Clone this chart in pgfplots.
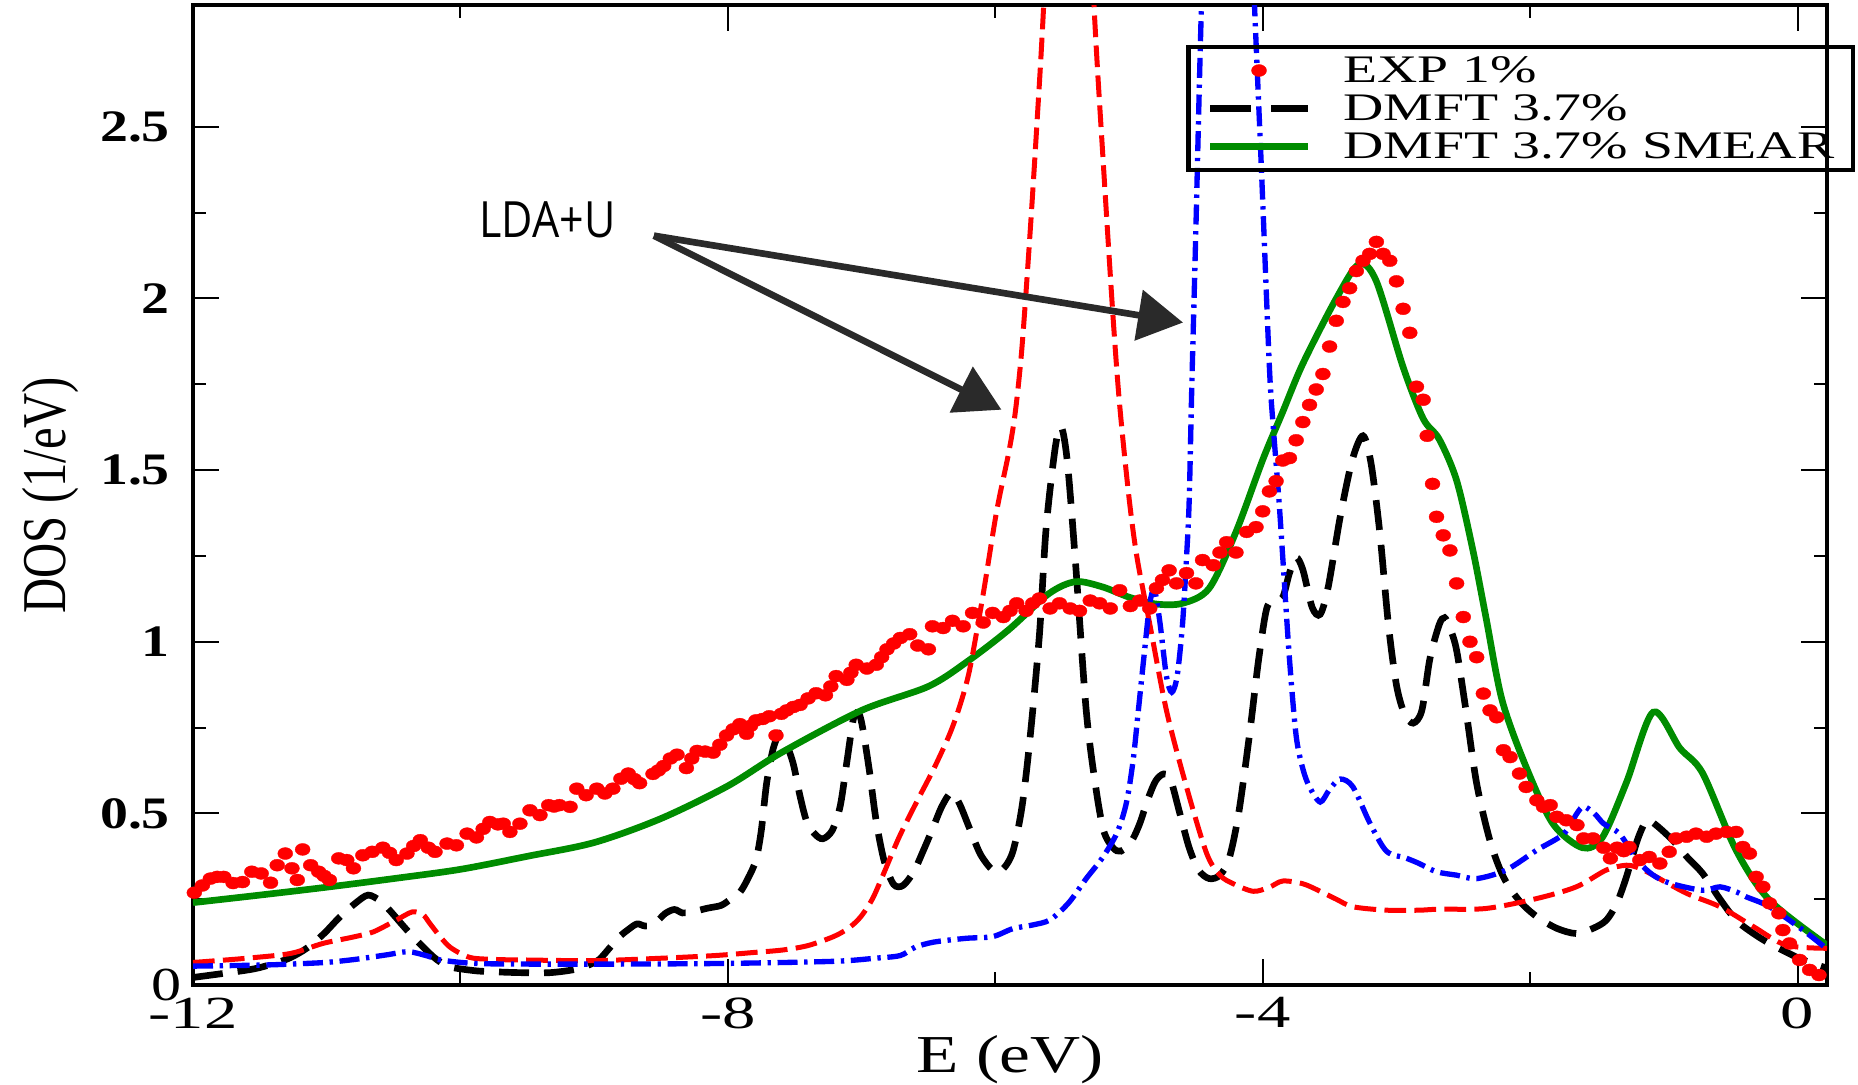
\documentclass[border=0pt]{standalone}
\usepackage{graphicx}
\usepackage{pgfplots}
\pgfplotsset{compat=1.18}
\usepackage{fontspec}
\setmainfont{Liberation Serif}
\newfontfamily\annfont{Open Sans}
\usetikzlibrary{arrows.meta}

\definecolor{smeargreen}{rgb}{0,0.55,0}
\definecolor{arrowgray}{RGB}{42,42,42}

% horizontally widened labels
\newcommand{\xtl}[1]{\scalebox{1.45}[1]{\fontsize{13.8}{13.8}\selectfont #1}}
\newcommand{\ytl}[1]{\scalebox{1.24}[1]{\fontsize{13.5}{13.5}\selectfont\bfseries #1}}
\newcommand{\lgt}[1]{\scalebox{1.43}[1]{#1}}

% legend sample for the dashed DMFT curve
\pgfplotsset{dmft legend/.style={legend image code/.code={\draw[##1, dash pattern=on 12.3pt off 6pt] (0pt,0pt) -- (29.4pt,0pt);}}}

\begin{document}
\begin{tikzpicture}
\begin{axis}[
  scale only axis,
  width=490.2pt, height=294pt,
  xmin=-12, xmax=0.22,
  ymin=0, ymax=2.855,
  axis line style={line width=1.2pt},
  every tick/.style={black, line width=0.6pt},
  major tick length=7.8pt, minor tick length=4pt,
  xtick={-12,-8,-4,0},
  xticklabels={\xtl{-12},\xtl{-8},\xtl{-4},\xtl{0}},
  xticklabel style={inner ysep=0pt, yshift=-3.6pt},
  minor x tick num=1,
  ytick={0,0.5,1,1.5,2,2.5},
  yticklabels={{\raisebox{0.3pt}{\scalebox{1.27}[1]{\fontsize{14.2}{14.2}\selectfont 0}}\hspace*{-3.4pt}},\ytl{0.5},\ytl{1},\ytl{1.5},\ytl{2},\ytl{2.5}},
  minor y tick num=1,
  yticklabel style={inner ysep=0pt, xshift=-3.4pt},
  xlabel={\scalebox{1.3}[1]{E (eV)}},
  xlabel style={font=\fontsize{16}{16}\selectfont, at={(axis description cs:0.5,-0.0888)}, anchor=base},
  ylabel={\scalebox{1}[1.28]{DOS (1/eV)}},
  ylabel style={font=\fontsize{14.6}{14.6}\selectfont, at={(axis description cs:-0.0869,0.5)}, anchor=center},
  legend image code/.code={\draw[mark repeat=2,mark phase=2,#1] plot coordinates {(0pt,0pt) (14.7pt,0pt) (29.4pt,0pt)};},
  legend style={
    at={(rel axis cs:1,1)}, anchor=north east, xshift=8.4pt, yshift=-12pt,
    draw=black, line width=1.3pt, fill=none,
    inner xsep=5.5pt, inner ysep=1.3pt,
    column sep=9.6pt,
    font=\fontsize{11.7}{11.7}\selectfont,
    nodes={inner sep=0pt, text height=9.2pt, text depth=2.2pt},
    cells={anchor=west},
  },
]

% experiment
\addplot[only marks, mark=*, color=red, mark size=1.8pt,
  mark options={fill=red, draw=red, line width=0.1pt, xscale=1.25}] table {
x y
-11.99 0.269
-11.93 0.29
-11.87 0.31
-11.82 0.315
-11.77 0.315
-11.70 0.297
-11.63 0.30
-11.56 0.33
-11.49 0.325
-11.42 0.298
-11.37 0.349
-11.31 0.383
-11.26 0.34
-11.22 0.306
-11.18 0.395
-11.12 0.349
-11.06 0.33
-11.02 0.318
-10.98 0.306
-10.91 0.369
-10.85 0.364
-10.80 0.34
-10.73 0.378
-10.66 0.388
-10.58 0.40
-10.53 0.385
-10.48 0.364
-10.40 0.383
-10.35 0.405
-10.30 0.422
-10.24 0.40
-10.19 0.388
-10.10 0.412
-10.03 0.407
-9.95 0.441
-9.88 0.43
-9.83 0.455
-9.78 0.475
-9.72 0.468
-9.68 0.47
-9.63 0.446
-9.555 0.47
-9.48 0.509
-9.405 0.495
-9.34 0.524
-9.30 0.52
-9.26 0.524
-9.18 0.519
-9.13 0.572
-9.06 0.553
-8.98 0.572
-8.92 0.558
-8.86 0.572
-8.80 0.601
-8.745 0.616
-8.70 0.60
-8.66 0.588
-8.56 0.615
-8.52 0.625
-8.48 0.638
-8.43 0.66
-8.38 0.671
-8.31 0.632
-8.27 0.66
-8.23 0.682
-8.17 0.68
-8.11 0.677
-8.06 0.70
-8.01 0.727
-7.96 0.745
-7.91 0.76
-7.86 0.732
-7.83 0.755
-7.79 0.771
-7.74 0.775
-7.69 0.783
-7.64 0.727
-7.60 0.79
-7.56 0.80
-7.51 0.81
-7.46 0.816
-7.40 0.835
-7.34 0.85
-7.27 0.844
-7.23 0.87
-7.19 0.90
-7.11 0.889
-7.08 0.91
-7.04 0.933
-6.96 0.922
-6.89 0.933
-6.85 0.955
-6.81 0.978
-6.76 0.995
-6.71 1.011
-6.64 1.022
-6.58 0.989
-6.50 0.978
-6.47 1.045
-6.39 1.04
-6.32 1.061
-6.24 1.045
-6.17 1.084
-6.09 1.056
-6.02 1.084
-5.94 1.072
-5.89 1.09
-5.84 1.112
-5.77 1.09
-5.72 1.112
-5.67 1.126
-5.59 1.097
-5.52 1.112
-5.44 1.097
-5.37 1.09
-5.29 1.12
-5.22 1.112
-5.14 1.097
-5.07 1.15
-4.99 1.104
-4.92 1.12
-4.845 1.097
-4.795 1.156
-4.75 1.18
-4.70 1.208
-4.645 1.17
-4.57 1.20
-4.50 1.17
-4.45 1.238
-4.37 1.223
-4.32 1.26
-4.27 1.29
-4.20 1.26
-4.12 1.32
-4.05 1.334
-4.00 1.38
-3.95 1.438
-3.90 1.468
-3.85 1.528
-3.80 1.535
-3.75 1.587
-3.70 1.64
-3.65 1.69
-3.60 1.735
-3.55 1.78
-3.50 1.86
-3.45 1.935
-3.40 1.99
-3.35 2.03
-3.30 2.08
-3.25 2.11
-3.20 2.13
-3.15 2.165
-3.10 2.13
-3.05 2.11
-3.00 2.05
-2.95 1.97
-2.90 1.90
-2.85 1.743
-2.80 1.705
-2.77 1.60
-2.73 1.46
-2.70 1.364
-2.65 1.31
-2.60 1.266
-2.55 1.17
-2.50 1.072
-2.45 1.0
-2.40 0.955
-2.35 0.849
-2.30 0.80
-2.25 0.78
-2.20 0.684
-2.15 0.664
-2.08 0.616
-2.03 0.577
-1.95 0.538
-1.90 0.519
-1.85 0.524
-1.80 0.49
-1.73 0.48
-1.65 0.466
-1.60 0.427
-1.53 0.427
-1.45 0.40
-1.40 0.369
-1.35 0.40
-1.30 0.39
-1.26 0.402
-1.18 0.364
-1.11 0.373
-1.03 0.354
-0.96 0.388
-0.91 0.427
-0.83 0.432
-0.76 0.441
-0.68 0.432
-0.61 0.441
-0.53 0.446
-0.46 0.446
-0.41 0.402
-0.36 0.383
-0.31 0.315
-0.26 0.286
-0.21 0.238
-0.14 0.209
-0.11 0.16
-0.06 0.121
0.015 0.073
0.09 0.044
0.16 0.029
};
\addlegendentry{\lgt{EXP 1\%}}

% DMFT
\addplot[black, line width=2pt, dash pattern=on 9pt off 4.5pt, smooth, dmft legend] table {
x y
-12.0 0.022
-11.75 0.035
-11.52 0.049
-11.3 0.075
-11.15 0.107
-11.02 0.15
-10.90 0.199
-10.78 0.24
-10.69 0.262
-10.60 0.245
-10.53 0.218
-10.40 0.16
-10.28 0.111
-10.18 0.075
-10.08 0.053
-9.90 0.042
-9.78 0.039
-9.55 0.036
-9.33 0.036
-9.15 0.045
-9.03 0.06
-8.96 0.075
-8.88 0.11
-8.81 0.141
-8.75 0.16
-8.68 0.178
-8.62 0.172
-8.55 0.178
-8.47 0.208
-8.40 0.22
-8.34 0.21
-8.27 0.213
-8.15 0.224
-8.05 0.232
-7.98 0.25
-7.91 0.27
-7.85 0.31
-7.79 0.364
-7.75 0.45
-7.71 0.588
-7.66 0.69
-7.61 0.732
-7.56 0.70
-7.51 0.643
-7.46 0.55
-7.41 0.476
-7.35 0.44
-7.29 0.426
-7.22 0.45
-7.16 0.521
-7.11 0.65
-7.06 0.777
-7.02 0.79
-6.99 0.745
-6.94 0.62
-6.89 0.476
-6.83 0.36
-6.76 0.293
-6.69 0.29
-6.61 0.33
-6.54 0.39
-6.47 0.454
-6.40 0.52
-6.33 0.56
-6.27 0.53
-6.19 0.454
-6.11 0.38
-6.02 0.335
-5.95 0.335
-5.87 0.387
-5.80 0.52
-5.74 0.72
-5.67 1.02
-5.62 1.33
-5.55 1.57
-5.505 1.624
-5.46 1.52
-5.40 1.23
-5.32 0.80
-5.25 0.58
-5.19 0.45
-5.12 0.40
-5.06 0.39
-4.98 0.42
-4.92 0.47
-4.86 0.54
-4.80 0.595
-4.74 0.615
-4.69 0.60
-4.62 0.50
-4.55 0.40
-4.48 0.335
-4.40 0.31
-4.32 0.32
-4.25 0.37
-4.18 0.50
-4.10 0.726
-4.03 0.95
-3.97 1.097
-3.91 1.12
-3.85 1.13
-3.80 1.20
-3.75 1.245
-3.70 1.21
-3.63 1.10
-3.57 1.08
-3.51 1.16
-3.42 1.365
-3.33 1.53
-3.25 1.60
-3.19 1.52
-3.125 1.32
-3.06 1.05
-3.00 0.874
-2.94 0.79
-2.875 0.763
-2.81 0.80
-2.75 0.95
-2.68 1.05
-2.64 1.07
-2.60 1.04
-2.55 0.975
-2.48 0.80
-2.40 0.587
-2.30 0.42
-2.20 0.315
-2.08 0.245
-1.95 0.199
-1.80 0.165
-1.655 0.15
-1.53 0.165
-1.43 0.189
-1.35 0.24
-1.28 0.315
-1.20 0.42
-1.14 0.475
-1.11 0.48
-1.04 0.46
-0.93 0.42
-0.82 0.37
-0.71 0.325
-0.58 0.25
-0.46 0.189
-0.33 0.15
-0.21 0.121
-0.08 0.095
0.04 0.073
0.22 0.049
};
\addlegendentry{\lgt{DMFT 3.7\%}}

% DMFT, smeared
\addplot[smeargreen, line width=2pt, smooth] table {
x y
-12 0.240
-11.5 0.262
-11 0.285
-10.5 0.31
-10 0.337
-9.5 0.375
-9 0.415
-8.5 0.485
-8 0.580
-7.6 0.677
-7 0.80
-6.5 0.87
-6.2 0.945
-5.9 1.035
-5.6 1.14
-5.4 1.175
-5.2 1.16
-5.0 1.13
-4.8 1.11
-4.6 1.112
-4.4 1.156
-4.2 1.32
-4.0 1.53
-3.85 1.67
-3.7 1.81
-3.45 2.00
-3.28 2.10
-3.15 2.05
-2.95 1.80
-2.8 1.65
-2.68 1.59
-2.55 1.47
-2.43 1.27
-2.33 1.07
-2.21 0.83
-2.03 0.635
-1.83 0.47
-1.61 0.40
-1.46 0.43
-1.28 0.59
-1.08 0.795
-0.88 0.69
-0.71 0.617
-0.46 0.393
-0.21 0.247
0.22 0.116
};
\addlegendentry{\lgt{DMFT 3.7\% SMEAR}}

% LDA+U, first curve
\addplot[red, line width=1.5pt, dash pattern=on 6.5pt off 2.5pt, smooth, forget plot] table {
x y
-12.0 0.066
-11.92 0.068
-11.6 0.078
-11.27 0.092
-11.03 0.121
-10.80 0.14
-10.65 0.155
-10.48 0.189
-10.36 0.213
-10.28 0.205
-10.23 0.18
-10.15 0.14
-10.08 0.111
-9.99 0.09
-9.90 0.078
-9.70 0.074
-9.53 0.073
-9.0 0.071
-8.5 0.078
-8.09 0.086
-7.80 0.095
-7.59 0.102
-7.40 0.115
-7.21 0.141
-7.10 0.165
-7.01 0.197
-6.92 0.25
-6.84 0.32
-6.72 0.43
-6.59 0.532
-6.46 0.63
-6.34 0.732
-6.26 0.82
-6.19 0.922
-6.09 1.14
-5.99 1.38
-5.90 1.55
-5.85 1.67
-5.80 1.86
-5.74 2.19
-5.69 2.50
-5.64 2.84
-5.55 3.6
-5.45 4.2
-5.35 3.6
-5.26 2.84
-5.19 2.38
-5.12 1.95
-5.07 1.69
-5.00 1.42
-4.94 1.245
-4.845 1.052
-4.72 0.80
-4.57 0.577
-4.42 0.384
-4.32 0.32
-4.22 0.295
-4.07 0.273
-3.95 0.285
-3.85 0.303
-3.70 0.295
-3.57 0.273
-3.45 0.25
-3.325 0.228
-3.075 0.218
-2.83 0.218
-2.68 0.221
-2.33 0.223
-1.95 0.252
-1.655 0.286
-1.43 0.335
-1.28 0.349
-1.18 0.34
-1.08 0.32
-0.83 0.267
-0.58 0.228
-0.33 0.17
-0.085 0.116
0.22 0.107
};

% LDA+U, second curve
\addplot[blue, line width=1.6pt, dash pattern=on 6pt off 2pt on 1pt off 2pt, smooth, forget plot] table {
x y
-12.0 0.055
-11.5 0.058
-11.27 0.061
-11.0 0.066
-10.78 0.075
-10.55 0.088
-10.39 0.097
-10.25 0.085
-10.15 0.073
-9.90 0.063
-9.5 0.061
-8.78 0.061
-8.0 0.063
-7.21 0.069
-6.9 0.078
-6.71 0.086
-6.60 0.11
-6.46 0.125
-6.22 0.136
-6.02 0.141
-5.87 0.164
-5.72 0.175
-5.59 0.19
-5.45 0.24
-5.32 0.31
-5.20 0.37
-5.09 0.443
-5.02 0.53
-4.97 0.652
-4.93 0.80
-4.89 0.95
-4.845 1.11
-4.81 1.15
-4.77 1.06
-4.72 0.90
-4.68 0.853
-4.64 0.90
-4.60 1.05
-4.57 1.245
-4.55 1.41
-4.53 1.75
-4.50 2.2
-4.46 2.83
-4.40 3.6
-4.27 4.2
-4.14 3.6
-4.06 2.84
-4.01 2.38
-3.95 1.80
-3.92 1.62
-3.88 1.42
-3.85 1.245
-3.80 0.95
-3.75 0.726
-3.70 0.63
-3.65 0.577
-3.57 0.533
-3.50 0.57
-3.42 0.60
-3.325 0.577
-3.20 0.473
-3.075 0.39
-2.93 0.37
-2.83 0.354
-2.70 0.33
-2.55 0.32
-2.40 0.31
-2.18 0.335
-1.95 0.393
-1.75 0.44
-1.65 0.50
-1.60 0.52
-1.52 0.50
-1.45 0.47
-1.33 0.44
-1.20 0.364
-1.08 0.32
-0.95 0.296
-0.71 0.276
-0.58 0.286
-0.45 0.27
-0.385 0.257
-0.21 0.228
0.04 0.16
0.22 0.105
};

% annotation
\node[anchor=base, inner sep=0pt, font=\annfont\fontsize{15}{15}\selectfont]
  at (axis cs:-9.35,2.177) {\scalebox{0.86}[1]{LDA+U}};
\draw[arrowgray, line width=2pt, -{Triangle[length=13.5pt,width=15pt]}]
  (axis cs:-8.553,2.183) -- (axis cs:-5.954,1.676);
\draw[arrowgray, line width=2pt, -{Triangle[length=13.5pt,width=15pt]}]
  (axis cs:-8.553,2.183) -- (axis cs:-4.596,1.930);
\end{axis}
\pgfresetboundingbox
\useasboundingbox (-57.9pt,-29.7pt) rectangle (499.5pt,295.5pt);
\end{tikzpicture}
\end{document}
